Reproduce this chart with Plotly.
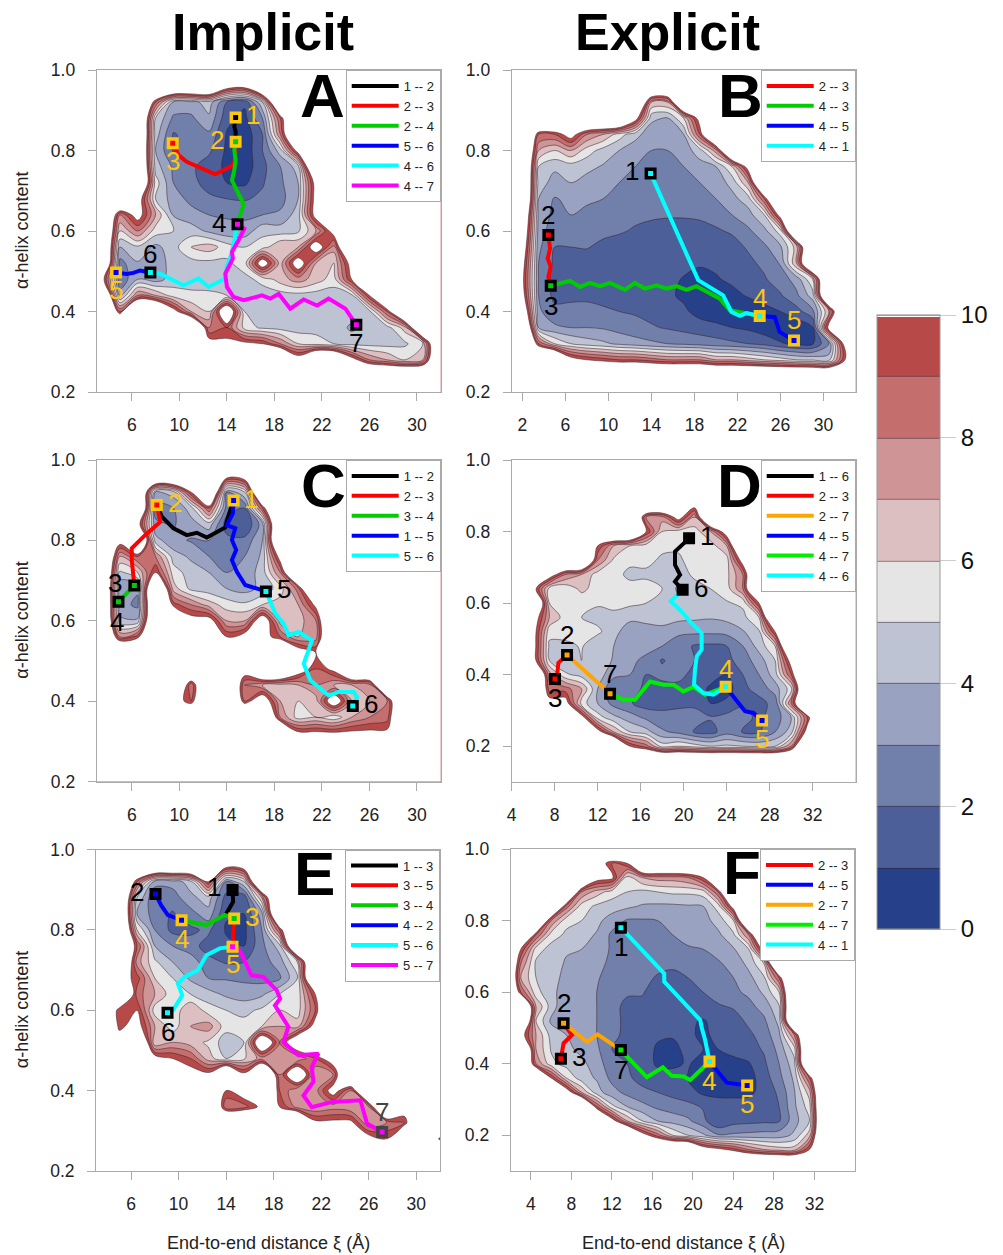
import plotly.graph_objects as go

N = 16  # above the top contour level: drawn as empty

W, H = 1003, 1255
BAND_COLORS = ["#26408a", "#4c5f99", "#717fab", "#99a2c0", "#bdc3d2",
               "#e5e5e5", "#dcbfc0", "#cf9596", "#c46e6d", "#b84949"]
GOLD = "#FDC70C"
COL = dict(k="#000000", r="#ff0000", g="#00cd00", b="#0000ff", c="#00ffff",
           m="#ff00ff", o="#ffa500", l="#00ee00")

# ---------- surfaces ----------
XG_ACE = [3.5, 5, 6.5, 8, 9.5, 11, 12.5, 14, 15.5, 17, 18.5, 20, 21.5, 23, 24.5, 26, 27.5, 29, 30.5, 32]
YG_STD = [.96, .92, .88, .84, .80, .76, .72, .68, .64, .60, .56, .52, .48, .44, .40, .36, .32, .28, .24]
YG_LOW = YG_STD + [.20, .16, .12]

A_z = [
 [N,N,N,N,N,N,N,11.5,11],
 [N,N,N,9,3.8,3.6,4.5,2,1.2,5],
 [N,N,N,5,2.8,2.8,3.8,1.3,.7,3,9],
 [N,N,N,4.5,1.9,2.4,2.8,.9,.3,2,8],
 [N,N,N,4,1.9,2.4,2.2,.8,.3,2,4.5,11],
 [N,N,N,4.5,2.8,2.2,1.5,.8,.4,1.7,3,4.5],
 [N,N,N,5.5,3,2.3,1.6,1,.8,1.9,2.8,4,11],
 [N,N,11.5,5,3.5,2.7,2.2,2,1.9,2.2,2.6,4,11],
 [N,8,11,7,3.9,3.4,3,2.9,2.8,3,3.2,4.5,11],
 [N,6,8,5.5,5,4.5,3.8,3.3,3.4,4.7,4.5,4.8,7,11],
 [N,4,4.8,3.7,4.6,6,6.5,5.5,5,5.5,7,7,11.5,7.5],
 [N,2.6,3.9,3.3,4.5,4.6,4.7,4.8,5.5,11.5,6.5,11.5,7,6,11],
 [11,2.2,4,3.5,4.5,4.6,4.5,4.6,4.7,5.3,6.5,7.5,6.5,5.5,10],
 [N,3.5,8,7,5.5,5.2,5.2,5,4.6,4.5,4.5,4.6,4.5,4.5,4.7,10],
 [N,9,N,N,11,7,6,13,5,4.7,4.5,4.5,4.5,4.5,4.6,4.7,9],
 [N,N,N,N,N,N,8,9,5.5,4.8,4.6,4.5,4.6,4.6,3.8,4.5,4.6,6.5],
 [N,N,N,N,N,N,11,10.5,10.5,10,8,6,5.5,5,4.6,4.6,4.6,4.8,6],
 [N,N,N,N,N,N,N,N,N,N,N,11.5,N,N,11,8,7,6,7],
 [N],
]

B_x = [2, 3.5, 5, 6.5, 8, 9.5, 11, 12.5, 14, 15.5, 17, 18.5, 20, 21.5, 23, 24.5, 26, 27.5, 29, 30.5, 32]
B_z = [
 [N],
 [N,N,N,N,N,N,N,N,7,7],
 [N,N,N,N,N,N,N,11,4.2,3.9,6,11],
 [N,9,9,11,8,7,5.5,4.3,3.5,3.6,4,9],
 [N,7,6,7,5.5,4.6,4,3.5,3,3,3.5,4.5,7.5],
 [N,5,4.2,4.5,4.3,3.9,3.5,3,2.6,2.7,3,3.6,4,6,11],
 [N,4.5,3.6,4,3.6,3.4,3,2.8,2.5,2.5,2.7,3,3.5,4.3,7],
 [N,4,2.9,3.3,3.2,3,2.7,2.5,2.3,2.3,2.5,2.7,3,3.7,4.5,9],
 [14,3.7,2.7,3,2.7,2.6,2.4,2.2,2.1,2.05,2.05,2.1,2.3,3,3.6,5,11],
 [13,3.5,2.4,2.4,2.3,2.2,2.1,1.9,1.8,1.8,1.8,1.8,1.9,2.1,2.8,3.7,5.5],
 [12,3.2,2,2,2.05,1.8,1.6,1.6,1.6,1.5,1.5,1.5,1.6,1.7,2.1,2.8,3.8,6.5],
 [11,3,1.8,1.7,1.6,1.5,1.5,1.4,1.4,1.3,1.2,1.1,1.2,1.5,1.8,2.2,3.1,7],
 [10.5,3,1.6,1.5,1.5,1.5,1.4,1.4,1.3,1.2,.95,.7,.9,1.2,1.5,1.9,2.5,3.4,6],
 [11,3,1.7,1.7,1.8,1.6,1.5,1.4,1.3,1.2,.8,.5,.5,.7,1.1,1.5,1.9,2.8,4.5],
 [13,3.2,2.3,2.4,2.3,2.2,2,1.9,1.7,1.5,1.2,.6,.3,.2,.3,.6,1,1.6,2.7,7],
 [N,4,3.2,3,3,2.9,2.6,2.3,2.1,1.9,1.7,1.5,1.3,1,.8,.4,.3,.3,.95,11],
 [N,9,6,5,4.5,4.2,3.8,3.5,3.2,3,2.8,2.6,2.4,2.2,2,1.7,1.1,.8,.9,3,11],
 [N,N,N,11,10,9.5,9,9,8.5,8,8,8,7,7,6.5,6,5.5,5,4.8,4.5,10],
 [N],
]

C_z = [
 [N,N,N,N,N,N,N,11,11.5],
 [N,N,N,3.8,4.5,10,N,3,5],
 [N,N,N,2.6,3,4.5,9,2.5,2,9],
 [N,N,11,3.2,2.9,3.6,4.5,1.5,1,3.5],
 [N,11,N,4.4,3.3,2.9,3,2.3,2.3,4],
 [N,7,9,8,4.5,3.8,3,2.7,3,4.2,11],
 [N,4.7,6,10,5.5,4.5,4,3,3.3,4.5,8],
 [N,3.2,3.2,N,6.5,4.7,4.4,4,3.6,4.3,5.5,8.5],
 [N,3.5,2.7,N,9.5,8,6.5,5.5,5.2,6,6.5,7,10.5],
 [N,4.2,4.2,N,N,11,11,7,7,12,6.5,6.5,8],
 [N,8,9.5,N,N,11.5,N,10,11,11,9,7,7.5],
 [N,N,N,N,N,N,N,N,11,N,N,11.5,10],
 [N,N,N,N,N,N,N,N,11.5,N,N,11.5,9,10.5],
 [N,N,N,N,N,8,N,N,8,7,6.5,7,8,7,7,7.5],
 [N,N,N,N,11.5,9,N,N,9,12,7,6,6.5,12,7,7,8],
 [N,N,N,N,N,N,N,N,N,N,8,5.5,6,5.2,7,8,8.5],
 [N,N,N,N,N,N,N,N,N,N,N,10.5,10.5,10.3,10.5,10.5,10.5],
 [N],
 [N],
]

D_x = [6, 7.5, 9, 10.5, 12, 13.5, 15, 16.5, 18, 19.5, 21, 22.5, 24, 25.5, 27, 28.5, 30, 31.5, 33]
D_z = [
 [N],
 [N],
 [N,N,N,N,N,N,N,N,N,N,11.5],
 [N,N,N,N,N,N,N,8,7.5,11,7],
 [N,N,N,N,N,N,N,10,6,5.5,5.5,7,11.5],
 [N,N,N,N,10,7,6,5.5,5.4,5.2,5.5,5.5,7],
 [N,N,N,N,8,5.8,5.2,5.5,4.7,4.8,5.5,6,5.5,11],
 [N,11.5,8,7,5.5,5.3,4.8,4.6,4.7,4.5,5.2,5.5,5.7,8],
 [11,5.5,5.2,6.3,5.5,5.2,5.3,5.8,5,3.8,4.6,5,5.5,8],
 [N,6,5.3,5.2,5.1,5.4,5.2,5,4.5,4.4,4.6,4.6,4.9,5.2,10],
 [11.5,7,5.5,5,4.7,4.6,4.3,4.3,4.4,4.3,4.2,4.1,4.3,4.7,6],
 [11,5.3,5.5,5.2,5.2,4.4,3.3,3.6,3.7,3.2,3.2,3.2,3.3,3.9,4.8,10],
 [11,4.8,4.7,5.1,4.2,4,3.7,3.3,3,2.5,1.9,1.8,2,3,4.4,6],
 [11,5,4,5,4.6,3.9,3.2,2.8,1.9,2.5,2,1.7,1.7,2.5,3.5,5,11],
 [N,7.5,5.2,4.6,4.5,3.3,3,2,2.3,2.5,1.5,1.4,1,2,3,4.5,9],
 [N,8.5,8.5,7,4,2,2.2,1.9,1.6,1.5,1.6,.8,.5,1.8,2.3,3.5,5.5],
 [N,11,11,5.5,4,2.6,2.1,1.5,1.8,1.7,1.8,1,1.3,1.9,1.7,2.3,8],
 [N,N,N,11,5.5,4.3,3.5,2.8,2.2,2.5,2.4,2.1,2.3,2.3,1.8,2.4,4,9],
 [N,N,N,N,11,7,5,4.4,3.2,2.7,1.9,1.6,2.6,1.9,1.9,3,4.5,11],
 [N,N,N,N,N,N,10,8.5,5.5,6,5.5,5,5.2,5,4.8,5,8],
 [N],
 [N],
]

E_z = [
 [N,N,N,N,N,N,N,11,11.5],
 [N,N,9,3.5,3.4,4.5,10,3,5],
 [N,N,5,2,2.5,3.7,4.5,1.6,1.2,7],
 [N,N,4,2.5,1.9,2.6,3.6,1.1,1,3.5],
 [N,N,6,3,1.7,1.8,2.2,.9,.7,3,9],
 [N,N,9,4,3,2.4,1.6,1.2,1,2.7,4.5],
 [N,N,7.5,5.2,4,3.6,2.3,1.9,2,2.5,3.5,6],
 [N,11,9.5,6,5,3.8,3,2.9,2.8,2.6,2.8,5],
 [N,N,8.5,7,5.4,5,4.4,3.8,3.5,3.8,5,5.3,10],
 [N,9,10,5.5,5.2,7,5.5,5,4.7,5.2,6,5.5,9],
 [N,9.5,11,7,5.5,7,7.5,5.4,5.4,6,7,6.5,11],
 [N,11.5,N,6,7,6.5,5.8,4.4,5,13,8,13],
 [N,N,N,11,10,9,6.5,5,5.8,7.5,8,7,9,11.5],
 [N,N,N,11.5,N,11,10.5,N,10.5,N,8,13,7,8],
 [N,N,N,N,N,N,N,10,11.5,N,9,7,7.5,11,8],
 [N,N,N,N,N,N,N,8,8.5,10.5,10,7.5,7,7.5,7,8,N,11.5],
 [N,N,N,N,N,N,N,N,N,N,N,N,10.5,10.5,10.5,7,8,9],
 [N,N,N,N,N,N,N,N,N,N,N,N,N,N,N,11,10,N,N,9.5],
 [N],
]

F_x = [3, 4.5, 6, 7.5, 9, 10.5, 12, 13.5, 15, 16.5, 18, 19.5, 21, 22.5, 24, 25.5, 27, 28.5, 30, 31.5, 33]
F_z = [
 [N,N,N,N,N,11.5,9,10],
 [N,N,N,N,N,11,10.5,5.5,7,7.5,7.5,8,10],
 [N,N,N,N,8,6.5,5.5,5,4.7,5,5.2,5.2,5.5,9],
 [N,N,N,8.5,5.5,4.8,4.5,4.2,3.9,3.8,3.8,3.9,4,5.5,11],
 [N,N,8,5.3,5,4.3,3.5,2.9,2.9,3,3.2,3.4,3.6,4.4,6],
 [N,9,5.5,4.8,4.4,3.9,2.8,2.5,2.4,2.6,3,3.3,3.4,3.8,4.8,8],
 [10,5.5,4.6,4.1,4,3.8,2.8,2.6,2.4,2.4,2.6,2.9,3,3.3,3.9,5,11],
 [8,4.8,4.4,3.9,4,3.4,2.7,2.5,2.4,2.3,2.3,2.4,2.6,2.9,3.3,4.3,6],
 [7,5,4.5,3.6,3.5,3.1,2.6,2.5,2.3,1.9,1.6,2,2.3,2.6,3,3.7,4.8,9],
 [9,5.3,4.4,3.3,3.3,3,2.4,2.2,2.1,1.4,1.3,1.8,2,2.4,2.8,3.2,4.2,6],
 [N,7,4.5,3.1,3.9,3,2.5,1.6,1.7,1.5,1.4,1.5,1.8,1.9,2.1,2.7,3.4,4.8],
 [N,6,3.8,3,3.5,3,2.4,1.7,1.6,1.4,1.2,1.2,.9,1.4,1.6,2.2,2.8,4.3],
 [11,7,4.6,4,3.5,3,2.2,1.8,1.7,1.2,1.1,1.3,.7,1.4,1.5,1.8,2.4,3.8,8],
 [N,7,4.9,4.2,3.8,3.2,2,1.9,1.7,.8,.7,1.3,1,1,1.3,1.6,2.1,3.3,5.5],
 [N,8,5.3,4.6,4.2,3.6,2.2,2,1.7,.8,.8,1.1,.6,.5,.7,.9,1.8,3,4.6],
 [N,N,10,6,4.4,3.9,2.7,2.2,1.6,1.5,1.4,.95,.7,.5,.5,.6,1.5,2.7,4.2,9],
 [N,N,N,11.5,7,4.4,3.4,2.7,2.3,2,1.7,1.4,.8,.7,.8,.8,1.3,2.2,3.9,6.5],
 [N,N,N,N,N,9,5.3,4,3.3,2.8,2.5,2.3,1.9,1.5,1.3,1.4,1.6,2,3.8,5.5],
 [N,N,N,N,N,N,11,7,5,4,3.6,3.2,2.3,1,1.6,1.7,1.8,1.9,3.6,5],
 [N,N,N,N,N,N,N,N,11,8.5,6,5,4.2,3.1,3.2,3.3,3.4,3.5,4.2,6.5],
 [N,N,N,N,N,N,N,N,N,N,N,N,11.5,10.5,9.5,8,7,6.5,6.5,10],
 [N],
]

# ---------- network nodes ----------
A_nodes = {"1": (14.74, .882), "2": (14.74, .822), "3": (9.45, .818), "4": (14.9, .617),
           "5": (4.68, .497), "6": (7.57, .497), "7": (24.9, .367)}
B_nodes = {"1": (13.92, .743), "2": (4.41, .590), "3": (4.63, .464), "4": (24.07, .389), "5": (27.26, .328)}
C_nodes = {"1": (14.57, .899), "2": (8.11, .888), "3": (6.22, .688), "4": (4.88, .647),
           "5": (17.29, .673), "6": (24.6, .388)}
D_nodes = {"1": (20.5, .781), "2": (9.15, .455), "3": (8.03, .388), "4": (23.9, .366),
           "5": (27.29, .272), "6": (19.9, .637), "7": (13.15, .347)}
E_nodes = {"1": (14.54, .899), "2": (8.06, .889), "3": (14.68, .828), "4": (10.25, .824),
           "5": (14.54, .758), "6": (9.07, .594), "7": (27.13, .297)}
F_nodes = {"1": (12.88, .780), "2": (7.22, .513), "3": (6.96, .414), "4": (21.63, .406),
           "5": (25.35, .339), "7": (12.88, .438)}

# ---------- network paths: (label, colour key, xs, ys) ----------
A_paths = [
 ("1 -- 2", "k", [14.74,14.63,14.74,14.74], [.882,.859,.847,.822]),
 ("2 -- 3", "r", [14.74,14.74,14.57,13.02,10.63,9.93,9.45], [.822,.784,.764,.741,.772,.789,.818]),
 ("2 -- 4", "g", [14.74,14.63,14.74,14.63,14.43,14.99,15.41,14.9], [.822,.801,.776,.751,.726,.693,.667,.617]),
 ("5 -- 6", "b", [4.68,5.58,6.14,6.7,7.57], [.497,.493,.496,.502,.497]),
 ("4 -- 6", "c", [7.57,8.39,10.35,11.62,12.46,13.87,14,14.43,14.9], [.497,.494,.465,.482,.461,.482,.51,.548,.617]),
 ("4 -- 7", "m", [14.9,15.47,14.99,14.43,14.51,13.87,14.01,14.57,15.41,16.96,17.66,18.36,19.34,20.47,21.59,22.57,23.98,24.9],
  [.617,.606,.577,.548,.532,.494,.461,.436,.428,.44,.432,.444,.407,.43,.415,.432,.407,.367]),
]
B_paths = [
 ("2 -- 3", "r", [4.41,4.57,4.35,4.63,4.41,4.63], [.59,.556,.532,.511,.486,.464]),
 ("4 -- 3", "g", [4.63,6.43,7.36,8.28,9.21,10.14,11.54,12.46,13.39,14.48,15.41,16.33,17.26,18.19,20.36,21.29,22.53,24.07],
  [.464,.476,.461,.471,.463,.471,.454,.471,.457,.465,.457,.463,.454,.463,.432,.403,.397,.389]),
 ("4 -- 5", "b", [24.07,25.47,25.93,27.26], [.389,.386,.349,.328]),
 ("4 -- 1", "c", [13.92,18.35,20.67,21.44,22.22,22.84,24.07], [.743,.478,.44,.399,.389,.396,.389]),
]
C_paths = [
 ("1 -- 2", "k", [8.11,8.53,9.51,10.63,11.48,12.32,13.87,14.15,14.57], [.888,.859,.83,.813,.819,.807,.832,.863,.899]),
 ("2 -- 3", "r", [8.11,8.39,7.12,6,6,6.22], [.888,.846,.813,.78,.751,.688]),
 ("3 -- 4", "g", [6.22,5.58,4.88], [.688,.670,.647]),
 ("1 -- 5", "b", [14.57,14.51,14.01,14.71,14.43,14.79,14.43,14.85,15.55,17.29], [.899,.867,.838,.83,.801,.776,.751,.722,.689,.673]),
 ("5 -- 6", "c", [17.29,18.08,18.78,19.2,20.04,21.17,20.47,21.03,22.57,23.42,24.68,24.96,24.6],
  [.673,.618,.593,.564,.572,.551,.493,.452,.414,.423,.423,.41,.388]),
]
D_paths = [
 ("1 -- 6", "k", [20.5,19.19,19.19,19.66,19.19,19.9], [.781,.744,.707,.679,.66,.637]),
 ("2 -- 3", "r", [9.15,8.34,8.25,8.03], [.455,.433,.405,.388]),
 ("2 -- 7", "o", [9.15,13.15], [.455,.347]),
 ("4 -- 5", "b", [23.9,25.7,26.48,27.29], [.366,.298,.293,.272]),
 ("4 -- 7", "l", [13.15,14.39,15.47,16.87,18.11,19.04,19.97,20.9,21.98,23.9], [.347,.33,.33,.381,.372,.372,.353,.366,.344,.366]),
 ("4 -- 6", "c", [23.9,22.76,21.83,20.96,21.05,21.21,21.67,21.67,20.59,19.66,18.79,19.35,19.9],
  [.366,.344,.349,.372,.414,.451,.47,.516,.549,.581,.605,.623,.637]),
]
E_paths = [
 ("1 -- 3", "k", [14.54,14.59,14.03,14.68], [.899,.87,.841,.828]),
 ("3 -- 5", "r", [14.68,14.59,14.54], [.828,.799,.758]),
 ("3 -- 4", "g", [14.68,13.89,12.34,11.49,10.25], [.828,.837,.812,.816,.824]),
 ("4 -- 2", "b", [10.25,9.1,8.54,8.06], [.824,.837,.861,.889]),
 ("5 -- 6", "c", [14.54,13.46,12.34,11.63,10.51,9.94,10.31,9.52,9.07], [.758,.754,.737,.7,.683,.666,.637,.6,.594]),
 ("5 -- 7", "m", [14.54,15.15,16.14,17.13,18.25,18.54,18.11,19.24,18.82,20.08,21.77,21.21,21.35,20.51,21.21,22.9,25.3,25.86,27.13],
  [.758,.749,.687,.683,.65,.629,.612,.559,.521,.488,.492,.459,.422,.388,.359,.372,.376,.318,.297]),
]
F_paths = [
 ("2 -- 3", "r", [7.22,8.05,7.22,6.96], [.513,.48,.457,.414]),
 ("4 -- 5", "b", [21.63,23.34,25.35], [.406,.347,.339]),
 ("2 -- 7", "o", [7.22,9.53,10.58,12.88], [.513,.461,.482,.438]),
 ("4 -- 7", "l", [12.88,15.45,17.03,17.91,19.07,19.72,21.63], [.438,.362,.39,.366,.364,.354,.406]),
 ("4 -- 1", "c", [12.88,17.16,17.16,20.71,20.88,21.2,21.63], [.78,.652,.629,.522,.499,.466,.406]),
]

# ---------- node styling: label -> (border/text colour, centre colour key, dx, dy px) ----------
K = "#000000"
A_style = {"1":(GOLD,"k",17,2),"2":(GOLD,"g",-19,2),"3":(GOLD,"r",0,-18),"4":(K,"m",-19,1),"5":(GOLD,"b",0,-18),"6":(K,"c",0,18),"7":(K,"m",0,-18)}
B_style = {"1":(K,"c",-19,2),"2":(K,"r",0,20),"3":(K,"g",0,-20),"4":(GOLD,"c",0,18),"5":(GOLD,"b",0,20)}
C_style = {"1":(GOLD,"b",17,2),"2":(GOLD,"r",18,2),"3":(K,"g",-19,2),"4":(K,"g",-1,-20),"5":(K,"c",18,2),"6":(K,"c",18,2)}
D_style = {"1":(K,"k",18,2),"2":(K,"o",0,20),"3":(K,"r",0,-19),"4":(GOLD,"c",0,18),"5":(GOLD,"b",0,-19),"6":(K,"k",18,2),"7":(K,"o",0,20)}
E_style = {"1":(K,"k",-19,3),"2":(K,"b",-19,2),"3":(GOLD,"g",18,2),"4":(GOLD,"b",0,-19),"5":(GOLD,"m",0,-17),"6":(K,"c",0,-19),"7":("#444444","m",0,20)}
F_style = {"1":(K,"c",0,-19),"2":(K,"o",0,20),"3":(K,"r",18,2),"4":(GOLD,"c",0,-19),"5":(GOLD,"b",0,-19),"7":(K,"l",0,-20)}

# ---------- panel layout (pixels in the 1003x1255 page) ----------
PANELS = [
 dict(name="A", x=XG_ACE, y=YG_STD, z=A_z, nodes=A_nodes, paths=A_paths, style=A_style, box=(96.7,440.7,70,392),
      xr=[3.05,32], yr=[.2,1], xt=[6,10,14,18,22,26,30], let=(322,95)),
 dict(name="B", x=B_x, y=YG_STD, z=B_z, nodes=B_nodes, paths=B_paths, style=B_style, box=(511.7,855.7,70,392),
      xr=[1,33], yr=[.2,1], xt=[2,6,10,14,18,22,26,30], let=(740,95)),
 dict(name="C", x=XG_ACE, y=YG_STD, z=C_z, nodes=C_nodes, paths=C_paths, style=C_style, box=(96.7,440.7,460,781.5),
      xr=[3.05,32], yr=[.2,1], xt=[6,10,14,18,22,26,30], let=(323,485)),
 dict(name="D", x=D_x, y=YG_LOW, z=D_z, nodes=D_nodes, paths=D_paths, style=D_style, box=(511.7,855.7,460,782),
      xr=[4,36], yr=[.1,1], xt=[4,8,12,16,20,24,28,32], let=(739,485)),
 dict(name="E", x=XG_ACE, y=YG_STD, z=E_z, nodes=E_nodes, paths=E_paths, style=E_style, box=(96,440,849.5,1171),
      xr=[3.05,32], yr=[.2,1], xt=[6,10,14,18,22,26,30], let=(314,873)),
 dict(name="F", x=F_x, y=YG_LOW, z=F_z, nodes=F_nodes, paths=F_paths, style=F_style, box=(510.7,855,849,1171),
      xr=[2,36], yr=[.1,1], xt=[4,8,12,16,20,24,28,32], let=(742,872)),
]

# stepped colour scale for levels 0..10; the region above 10 stays white
scale = []
for k, c in enumerate(BAND_COLORS):
    a = (k + .5) / 11 if k else 0
    b = (k + 1.5) / 11
    scale += [[a, c], [b, c]]
scale += [[10.5 / 11, "#ffffff"], [1, "#ffffff"]]

FONT = "Liberation Sans"
fig = go.Figure()
anns = []
layout = {}

def pw(v): return v / W
def ph(v): return 1 - v / H

for i, p in enumerate(PANELS):
    n = i + 1
    xa, ya = ("x" if n == 1 else f"x{n}"), ("y" if n == 1 else f"y{n}")
    leg = "legend" if n == 1 else f"legend{n}"
    L, R, T, B = p["box"]
    # empty nodes round the surface, the far ones beyond the axes so its outer edge is clipped away
    rows = [[N, N] + r + [N] * (len(p["x"]) - len(r) + 2) for r in p["z"]]
    blank = [N] * (len(p["x"]) + 4)
    gx = [-60, p["x"][0] - 1.5] + p["x"] + [p["x"][-1] + 1.5, 90]
    yasc = p["y"][::-1]
    gy = [-3, yasc[0] - .04] + yasc + [yasc[-1] + .04, 3]
    gz = [blank, blank] + rows[::-1] + [blank, blank]
    trace = dict(
        x=gx, y=gy, z=gz, xaxis=xa, yaxis=ya,
        autocontour=False, zmin=0, zmax=10,
        contours=dict(start=0, end=10, size=1, coloring="fill", showlines=True),
        line=dict(color="rgba(55,30,40,0.75)", width=.7, smoothing=1),
        colorscale=scale, hoverinfo="skip", showscale=(i == 0),
    )
    if i == 0:
        trace["colorbar"] = dict(
            x=pw(877), xanchor="left", xpad=0, ypad=0,
            y=ph(315), yanchor="top", thicknessmode="pixels", thickness=63,
            lenmode="pixels", len=614, tickvals=[0, 2, 4, 6, 8, 10],
            ticks="outside", ticklen=16, tickcolor="#cccccc", tickwidth=1,
            tickprefix="\u00a0\u00a0",
            tickfont=dict(size=24, family=FONT, color="#111111"),
            outlinecolor="#999999", outlinewidth=1,
        )
    fig.add_trace(go.Contour(**trace))

    for lab, ck, xs, ys in p["paths"]:
        fig.add_trace(go.Scatter(x=xs, y=ys, xaxis=xa, yaxis=ya, mode="lines", name=lab,
                                 legend=leg, line=dict(color=COL[ck], width=4), hoverinfo="skip"))
    for lab, (nx, ny) in p["nodes"].items():
        border, ck, dx, dy = p["style"][lab]
        fig.add_trace(go.Scatter(x=[nx], y=[ny], xaxis=xa, yaxis=ya, mode="markers", showlegend=False,
                                 marker=dict(symbol="square", size=8.5, color=COL[ck],
                                             line=dict(color=border, width=3.5)), hoverinfo="skip"))
        anns.append(dict(x=nx, y=ny, xref=xa, yref=ya, text=lab, showarrow=False, xshift=dx, yshift=dy,
                         xanchor="center", yanchor="middle",
                         font=dict(size=26, family=FONT, color=border)))
    axcommon = dict(showgrid=False, zeroline=False, showline=True, mirror=True, linecolor="#aaaaaa", linewidth=1,
                    ticks="outside", ticklen=8, tickcolor="#aaaaaa", tickwidth=1, ticklabelstandoff=9,
                    tickfont=dict(size=17.5, family=FONT, color="#222222"))
    layout["xaxis" if n == 1 else f"xaxis{n}"] = dict(
        domain=[pw(L), pw(R)], range=p["xr"], tickvals=p["xt"], anchor=ya, **axcommon)
    layout["yaxis" if n == 1 else f"yaxis{n}"] = dict(
        domain=[ph(B), ph(T)], range=p["yr"], tickvals=[.2, .4, .6, .8, 1.0], ticktext=["0.2", "0.4", "0.6", "0.8", "1.0"],
        anchor=xa, **axcommon)
    layout[leg] = dict(x=pw(R), y=ph(T), xanchor="right", yanchor="top", bgcolor="#ffffff",
                       bordercolor="#aaaaaa", borderwidth=1, itemwidth=47, tracegroupgap=0,
                       font=dict(size=13, family=FONT, color="#222222"))
    anns.append(dict(x=pw(p["let"][0]), y=ph(p["let"][1]), xref="paper", yref="paper", text=f"<b>{p['name']}</b>",
                     xanchor="center", yanchor="middle", showarrow=False, font=dict(size=62, family=FONT, color="#000000")))
    if i % 2 == 0:
        anns.append(dict(x=pw(22), y=ph((T + B) / 2), xref="paper", yref="paper", text="α-helix content", textangle=-90,
                         xanchor="center", yanchor="middle", showarrow=False, font=dict(size=18, family=FONT, color="#222222")))

for txt, cx in (("Implicit", 263), ("Explicit", 667)):
    anns.append(dict(x=pw(cx), y=ph(32), xref="paper", yref="paper", text=f"<b>{txt}</b>", showarrow=False,
                     xanchor="center", yanchor="middle", font=dict(size=52, family=FONT, color="#000000")))
for cx in (268, 683):
    anns.append(dict(x=pw(cx), y=ph(1243), xref="paper", yref="paper", text="End-to-end distance ξ (Å)", showarrow=False,
                     xanchor="center", yanchor="middle", font=dict(size=18, family=FONT, color="#222222")))

fig.update_layout(width=W, height=H, margin=dict(l=0, r=0, t=0, b=0, autoexpand=False),
                  paper_bgcolor="#ffffff", plot_bgcolor="#ffffff", annotations=anns, **layout)
fig.write_html("out.html", config=dict(displayModeBar=False), post_script="document.body.style.margin='0';")
